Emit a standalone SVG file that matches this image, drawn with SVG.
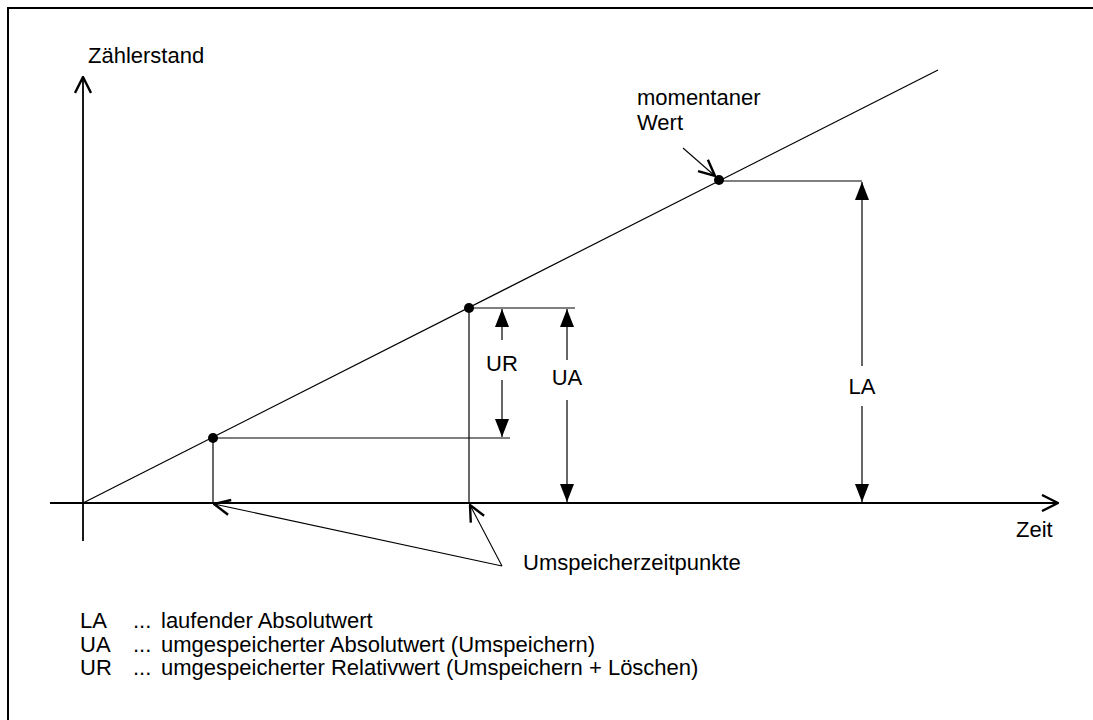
<svg xmlns="http://www.w3.org/2000/svg" width="1093" height="720" viewBox="0 0 1093 720">
  <style>
    text { font-family: "Liberation Sans", Arial, sans-serif; font-size: 22px; fill: #000; }
    .axis { stroke: #000; stroke-width: 1.8; fill: none; }
    .thin { stroke: #000; stroke-width: 1.2; fill: none; }
    .ptr { stroke: #000; stroke-width: 1.1; fill: none; marker-end: url(#open); }
  </style>
  <defs>
    <marker id="solidEnd" viewBox="0 0 18 14" refX="18" refY="7" markerWidth="18" markerHeight="14" markerUnits="userSpaceOnUse" orient="auto">
      <path d="M0,0 L18,7 L0,14 Z" fill="#000"/>
    </marker>
    <marker id="solidStart" viewBox="0 0 18 14" refX="0" refY="7" markerWidth="18" markerHeight="14" markerUnits="userSpaceOnUse" orient="auto">
      <path d="M18,0 L0,7 L18,14 Z" fill="#000"/>
    </marker>
    <marker id="open" viewBox="0 0 18 18" refX="17" refY="9" markerWidth="18" markerHeight="18" markerUnits="userSpaceOnUse" orient="auto">
      <path d="M1,1.5 L17,9 L1,16.5" fill="none" stroke="#000" stroke-width="2.4"/>
    </marker>
    <marker id="axisHead" viewBox="0 0 18 18" refX="17" refY="9" markerWidth="18" markerHeight="18" markerUnits="userSpaceOnUse" orient="auto">
      <path d="M1,1 L17,9 L1,17" fill="none" stroke="#000" stroke-width="2.4"/>
    </marker>
  </defs>

  <rect width="1093" height="720" fill="#fff"/>
  <!-- frame (top and left edges) -->
  <path d="M8,720 L8,8 L1093,8" fill="none" stroke="#000" stroke-width="2"/>

  <!-- axes -->
  <g id="axes">
    <line class="axis" x1="83" y1="541" x2="83" y2="77" marker-end="url(#axisHead)"/>
    <line class="axis" x1="50" y1="503" x2="1058" y2="503" marker-end="url(#axisHead)"/>
    <text x="88" y="63">Zählerstand</text>
    <text x="1016" y="537">Zeit</text>
  </g>

  <!-- counter line and readings -->
  <g id="counter-line">
    <line class="thin" x1="83" y1="503" x2="938" y2="70"/>
  </g>
  <g id="point-1">
    <circle cx="213" cy="438" r="5" fill="#000"/>
    <line class="thin" x1="213" y1="438" x2="510" y2="438"/>
    <line class="thin" x1="213" y1="438" x2="213" y2="503"/>
  </g>
  <g id="point-2">
    <circle cx="469" cy="308" r="5" fill="#000"/>
    <line class="thin" x1="469" y1="308" x2="575" y2="308"/>
    <line class="thin" x1="469" y1="308" x2="469" y2="503"/>
  </g>
  <g id="point-now">
    <circle cx="719" cy="180" r="5" fill="#000"/>
    <line class="thin" x1="719" y1="181" x2="862" y2="181"/>
    <text x="637" y="105">momentaner</text>
    <text x="637" y="130">Wert</text>
  </g>

  <!-- dimension arrows -->
  <g id="dim-UR">
    <line class="thin" x1="502" y1="309" x2="502" y2="340" marker-start="url(#solidStart)"/>
    <line class="thin" x1="502" y1="380" x2="502" y2="437" marker-end="url(#solidEnd)"/>
    <text x="502" y="371" text-anchor="middle">UR</text>
  </g>
  <g id="dim-UA">
    <line class="thin" x1="567" y1="309" x2="567" y2="360" marker-start="url(#solidStart)"/>
    <line class="thin" x1="567" y1="400" x2="567" y2="502" marker-end="url(#solidEnd)"/>
    <text x="567" y="385" text-anchor="middle">UA</text>
  </g>
  <g id="dim-LA">
    <line class="thin" x1="862" y1="182" x2="862" y2="366" marker-start="url(#solidStart)"/>
    <line class="thin" x1="862" y1="406" x2="862" y2="502" marker-end="url(#solidEnd)"/>
    <text x="862" y="394" text-anchor="middle">LA</text>
  </g>

  <!-- pointer connectors -->
  <g id="connectors">
    <line class="ptr" x1="502" y1="566" x2="214" y2="504"/>
    <line class="ptr" x1="502" y1="566" x2="470" y2="505"/>
    <line class="ptr" x1="683" y1="148" x2="715" y2="176"/>
  </g>
  <g id="label-umspeicher">
    <text x="523" y="570">Umspeicherzeitpunkte</text>
  </g>

  <!-- legend -->
  <g id="legend">
    <text x="80" y="628">LA</text>
    <text x="133" y="628">...</text>
    <text x="161" y="628">laufender Absolutwert</text>
    <text x="80" y="652">UA</text>
    <text x="133" y="652">...</text>
    <text x="161" y="652">umgespeicherter Absolutwert (Umspeichern)</text>
    <text x="80" y="675">UR</text>
    <text x="133" y="675">...</text>
    <text x="161" y="675">umgespeicherter Relativwert (Umspeichern + Löschen)</text>
  </g>
</svg>
